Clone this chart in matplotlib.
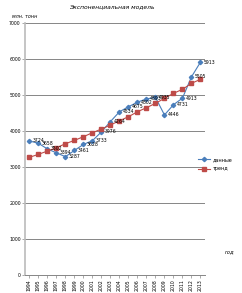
import matplotlib
matplotlib.use("Agg")
import matplotlib.pyplot as plt

# годы и данные (млн. тонн)
years = list(range(1994, 2014))
dannye = [3724, 3658, 3502, 3394, 3287, 3461, 3628, 3733, 3976, 4264,
          4534, 4675, 4802, 4893, 4935, 4446, 4731, 4913, 5505, 5913]
trend = [3270, 3352, 3444, 3536, 3647, 3740, 3842, 3953, 4056, 4167,
         4286, 4397, 4536, 4647, 4769, 4908, 5047, 5158, 5325, 5436]
yticks = [0, 1000, 2000, 3000, 4000, 5000, 6000, 7000]

blue = "#4A7EBB"
red = "#BE4B48"

fig = plt.figure(figsize=(2.42, 2.93), dpi=100)
ax = fig.add_axes([0.103, 0.0614, 0.744, 0.86])

x = list(range(len(years)))
l1, = ax.plot(x, dannye, "-D", color=blue, lw=0.8, ms=2.2, label="данные")
l2, = ax.plot(x, trend, "-s", color=red, lw=0.8, ms=3, mfc=red, mec=red, label="тренд")
for i, v in enumerate(dannye):
    ax.text(i + 0.35, v, str(v), fontsize=3.3, va="center", ha="left")

ax.set_xlim(-0.5, len(years) - 0.5)
ax.set_ylim(0, 7000)
ax.set_yticks(yticks)
ax.set_yticklabels([str(t) for t in yticks], fontsize=3.3)
ax.set_xticks(x)
ax.set_xticklabels([str(y) for y in years], fontsize=3.3, rotation=90)
ax.tick_params(axis="y", length=2, width=0.5, color="#888888", pad=1)
ax.tick_params(axis="x", length=2, width=0.5, color="#888888", pad=1)
ax.grid(axis="y", color="#868686", lw=0.7)
ax.set_axisbelow(True)
for s in ["top", "right"]:
    ax.spines[s].set_visible(False)
ax.spines["left"].set_color("#BBBBBB")
ax.spines["left"].set_linewidth(1.2)
ax.spines["bottom"].set_color("#868686")
ax.spines["bottom"].set_linewidth(0.7)

fig.text(0.463, 0.978, "Экспоненциальная модель", fontsize=4.3, style="italic",
         ha="center", va="center")
fig.text(0.05, 0.945, "млн. тонн", fontsize=3.5, style="italic", ha="left", va="center")
fig.text(0.93, 0.14, "год", fontsize=3.8, style="italic", ha="left", va="center")

fig.legend(handles=[l1, l2], loc="center left", bbox_to_anchor=(0.80, 0.44),
           fontsize=3.5, frameon=False, handlelength=2.5, labelspacing=0.9,
           handletextpad=0.5)

fig.savefig("out.png", dpi=100)
